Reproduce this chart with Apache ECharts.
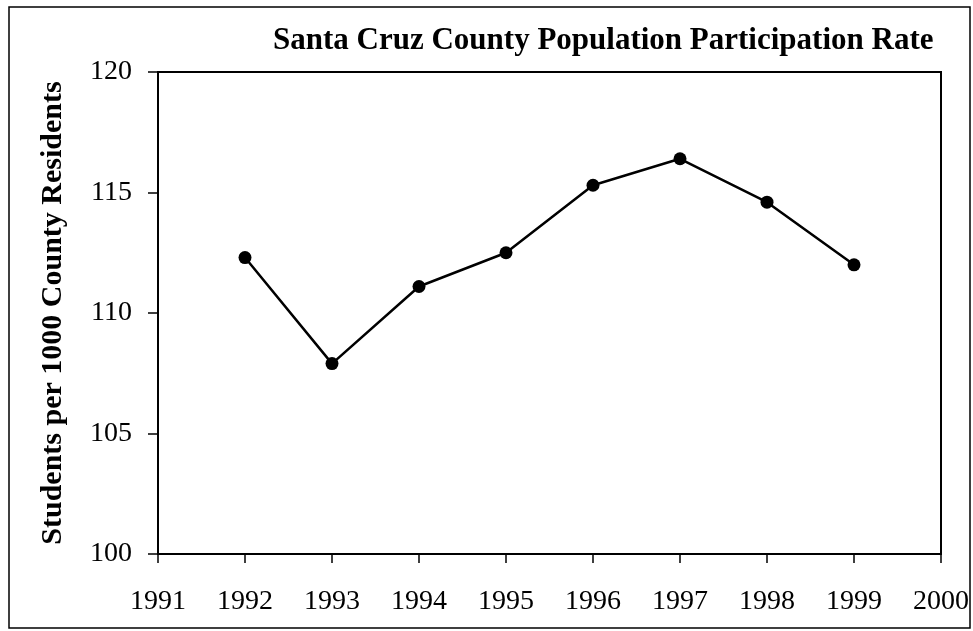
<!DOCTYPE html>
<html>
<head>
<meta charset="utf-8">
<script src="https://cdn.jsdelivr.net/npm/echarts@6/dist/echarts.min.js"></script>
<style>
  html, body { margin: 0; padding: 0; background: #fff; }
  #main { width: 973px; height: 631px; }
</style>
</head>
<body>
<div id="main"></div>
<script>
var years = [1992, 1993, 1994, 1995, 1996, 1997, 1998, 1999];
var rates = [112.3, 107.9, 111.1, 112.5, 115.3, 116.4, 114.6, 112.0];

var serif = '"Liberation Serif", "DejaVu Serif", serif';

var chart = echarts.init(document.getElementById('main'));

chart.setOption({
    animation: false,
    backgroundColor: '#fff',
    title: {
        text: 'Santa Cruz County Population Participation Rate',
        left: 268,
        top: 20,
        textStyle: {
            fontFamily: serif,
            fontWeight: 'bold',
            fontSize: 31,
            color: '#000'
        }
    },
    graphic: [{
        type: 'rect',
        shape: { x: 9, y: 7, width: 961, height: 621 },
        style: { fill: 'none', stroke: '#000', lineWidth: 1.5 },
        silent: true
    }],
    grid: {
        left: 158,
        right: 32,
        top: 72,
        bottom: 77,
        show: true,
        borderColor: '#000',
        borderWidth: 2
    },
    xAxis: {
        type: 'value',
        min: 1991,
        max: 2000,
        interval: 1,
        splitLine: { show: false },
        axisLine: { lineStyle: { color: '#000', width: 2 } },
        axisTick: { length: 9, lineStyle: { color: '#000', width: 1.5 } },
        axisLabel: {
            margin: 34,
            fontFamily: serif,
            fontSize: 28,
            color: '#000',
            formatter: function (v) { return String(v); }
        }
    },
    yAxis: {
        type: 'value',
        min: 100,
        max: 120,
        interval: 5,
        name: 'Students per 1000 County Residents',
        nameLocation: 'middle',
        nameGap: 90,
        nameTextStyle: {
            fontFamily: serif,
            fontWeight: 'bold',
            fontSize: 30,
            color: '#000'
        },
        splitLine: { show: false },
        axisLine: { show: true, lineStyle: { color: '#000', width: 2 } },
        axisTick: { show: true, length: 10, lineStyle: { color: '#000', width: 1.5 } },
        axisLabel: {
            margin: 26,
            fontFamily: serif,
            fontSize: 28,
            color: '#000'
        }
    },
    series: [{
        type: 'line',
        data: years.map(function (y, i) { return [y, rates[i]]; }),
        symbol: 'circle',
        symbolSize: 13,
        itemStyle: { color: '#000' },
        lineStyle: { color: '#000', width: 2.5 }
    }]
});
</script>
</body>
</html>
